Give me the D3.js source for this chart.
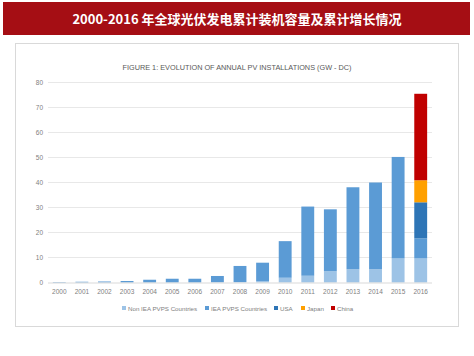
<!DOCTYPE html>
<html><head><meta charset="utf-8">
<script src="https://cdn.jsdelivr.net/npm/d3@7"></script>
<style>body{margin:0;background:#fff;}svg{display:block;}</style>
</head><body>
<script>
const years = ["2000","2001","2002","2003","2004","2005","2006","2007","2008","2009","2010","2011","2012","2013","2014","2015","2016"];
const nonIEA = [0,0,0,0,0,0,0,0.1,0.2,0.5,1.9,2.7,4.5,5.3,5.3,9.6,9.6];
const iea    = [0.2,0.3,0.4,0.6,1.1,1.5,1.5,2.5,6.4,7.4,14.6,27.6,24.7,32.7,34.6,40.5,8.0];
const usa    = [0,0,0,0,0,0,0,0,0,0,0,0,0,0,0,0,14.4];
const japan  = [0,0,0,0,0,0,0,0,0,0,0,0,0,0,0,0,8.8];
const china  = [0,0,0,0,0,0,0,0,0,0,0,0,0,0,0,0,34.5];
const seriesNames = ["Non IEA PVPS Countries","IEA PVPS Countries","USA","Japan","China"];
const seriesColors = ["#9DC3E6","#5B9BD5","#2E75B6","#FFA000","#C00000"];
const yTicks = [0,10,20,30,40,50,60,70,80];
const mainTitle = "2000-2016 年全球光伏发电累计装机容量及累计增长情况";
const chartTitle = "FIGURE 1: EVOLUTION OF ANNUAL PV INSTALLATIONS (GW - DC)";

const W = 474, H = 356;
const svg = d3.select("body").append("svg").attr("width", W).attr("height", H);

// title bar
svg.append("rect").attr("x",3).attr("y",2).attr("width",467).attr("height",33).attr("fill","#A50E14");
svg.append("text").attr("x",237).attr("y",23.5).attr("text-anchor","middle")
  .attr("fill","#fff").attr("font-family","'Noto Sans CJK SC', sans-serif").attr("font-weight","bold")
  .attr("font-size",13).text(mainTitle);

// chart frame
svg.append("rect").attr("x",15.5).attr("y",43.5).attr("width",443).attr("height",283)
  .attr("fill","#fff").attr("stroke","#D9D9D9").attr("stroke-width",1);

svg.append("text").attr("x",237).attr("y",70).attr("text-anchor","middle")
  .attr("fill","#595959").attr("font-family","'Liberation Sans',sans-serif")
  .attr("font-size",7.3).text(chartTitle);

const x = d3.scaleBand().domain(years).range([48,432]).paddingInner(0.43).paddingOuter(0.215);
const y = d3.scaleLinear().domain([0,80]).range([282.5,82]);

// gridlines
svg.append("g").selectAll("line").data(yTicks.slice(1)).join("line")
  .attr("x1",48).attr("x2",432).attr("y1",d=>Math.round(y(d))+0.5).attr("y2",d=>Math.round(y(d))+0.5)
  .attr("stroke","#E8E8E8").attr("stroke-width",1);

// stacked data
const rows = years.map((yr,i)=>({year:yr, s0:nonIEA[i], s1:iea[i], s2:usa[i], s3:japan[i], s4:china[i]}));
const stack = d3.stack().keys(["s0","s1","s2","s3","s4"])(rows);
svg.append("g").selectAll("g").data(stack).join("g").attr("fill",(d,i)=>seriesColors[i])
  .selectAll("rect").data(d=>d).join("rect")
  .attr("x",d=>x(d.data.year)).attr("width",x.bandwidth())
  .attr("y",d=>y(d[1])).attr("height",d=>Math.max(0,y(d[0])-y(d[1])));

// baseline
svg.append("line").attr("x1",48).attr("x2",432).attr("y1",283).attr("y2",283).attr("stroke","#D9D9D9");

// y axis
const yAxis = d3.axisLeft(y).tickValues(yTicks).tickSize(0).tickPadding(0);
const ya = svg.append("g").attr("transform","translate(43,0)").call(yAxis);
ya.select(".domain").remove();
ya.selectAll("text").attr("fill","#808080").attr("font-size",6.5).attr("font-family","'Liberation Sans',sans-serif");

// x axis
const xAxis = d3.axisBottom(x).tickSize(0).tickPadding(0);
const xa = svg.append("g").attr("transform","translate(0,289)").call(xAxis);
xa.select(".domain").remove();
xa.selectAll("text").attr("fill","#808080").attr("font-size",6.5).attr("font-family","'Liberation Sans',sans-serif");

// legend
const legX = [122,205,274,301,331];
const leg = svg.append("g");
seriesNames.forEach((n,i)=>{
  leg.append("rect").attr("x",legX[i]).attr("y",306).attr("width",4).attr("height",4).attr("fill",seriesColors[i]);
  leg.append("text").attr("x",legX[i]+6).attr("y",310.5).attr("fill","#808080")
    .attr("font-size",6.2).attr("font-family","'Liberation Sans',sans-serif").text(n);
});
</script>
</body></html>
